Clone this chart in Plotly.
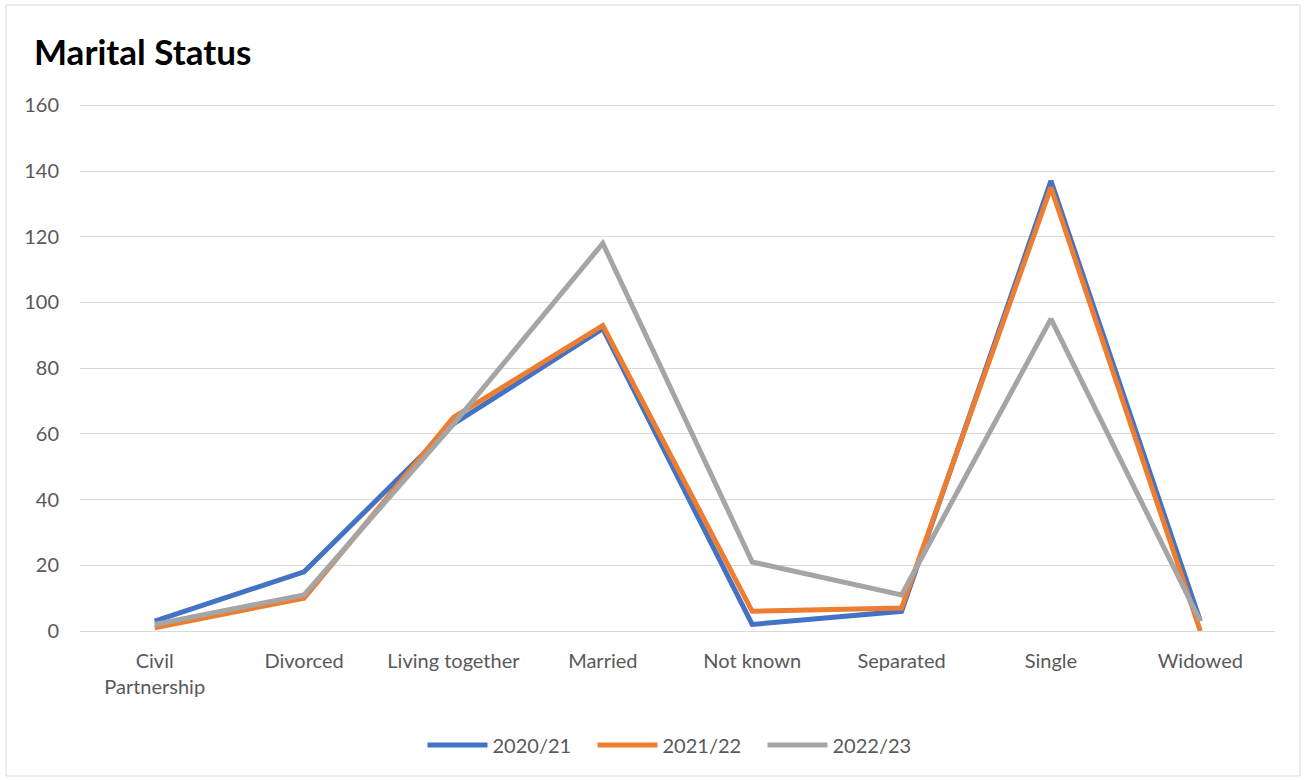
import plotly.graph_objects as go

categories = ["Civil<br>Partnership", "Divorced", "Living together", "Married",
              "Not known", "Separated", "Single", "Widowed"]
series_names = ["2020/21", "2021/22", "2022/23"]
values_2020_21 = [3, 18, 63, 92, 2, 6, 137, 3]
values_2021_22 = [1, 10, 65, 93, 6, 7, 135, 0]
values_2022_23 = [2, 11, 63, 118, 21, 11, 95, 3]
colors = ["#4472C4", "#ED7D31", "#A5A5A5"]

W, H = 1304, 780
L, R, T, B = 80, 29, 104, 149
FONT = "Lato, Liberation Sans, sans-serif"

fig = go.Figure()
for name, vals, col in zip(series_names, [values_2020_21, values_2021_22, values_2022_23], colors):
    fig.add_trace(go.Scatter(
        x=list(range(len(categories))), y=vals, name=name, mode="lines",
        line=dict(color=col, width=5, shape="linear"),
    ))

pw, ph = W - L - R, H - T - B
fig.add_shape(type="rect", xref="paper", yref="paper",
              x0=(6 - L) / pw, x1=(1300 - L) / pw,
              y0=1 - (776 - T) / ph, y1=1 - (5 - T) / ph,
              line=dict(color="#D9D9D9", width=1), layer="below")

fig.update_layout(
    width=W, height=H,
    margin=dict(l=L, r=R, t=T, b=B),
    paper_bgcolor="white", plot_bgcolor="white",
    font=dict(family=FONT, size=20, color="#595959"),
    title=dict(text="<b>Marital Status</b>", x=34 / W, xanchor="left", xref="container",
               y=1 - 53 / H, yanchor="middle", yref="container",
               font=dict(size=35, color="#000000", family=FONT)),
    showlegend=True,
    legend=dict(orientation="h", x=0.5, xanchor="center", xref="paper",
                y=-(745 - (T + ph)) / ph, yanchor="middle",
                font=dict(size=20, color="#595959"), itemwidth=60, traceorder="normal",
                entrywidth=95),
    xaxis=dict(range=[-0.5, len(categories) - 0.5], tickmode="array",
               tickvals=list(range(len(categories))), ticktext=categories,
               showgrid=False, zeroline=False, showline=False, ticks="",
               ticklabelstandoff=16,
               tickfont=dict(size=20, color="#595959"), fixedrange=True),
    yaxis=dict(range=[0, 160.4], tickmode="array", tickvals=[0, 20, 40, 60, 80, 100, 120, 140, 160],
               showgrid=True, gridcolor="#D9D9D9", gridwidth=1,
               zeroline=True, zerolinecolor="#D9D9D9", zerolinewidth=1, showline=False,
               ticks="", ticklabelstandoff=20,
               tickfont=dict(size=20, color="#595959"), fixedrange=True),
)

fig.write_html("out.html")
